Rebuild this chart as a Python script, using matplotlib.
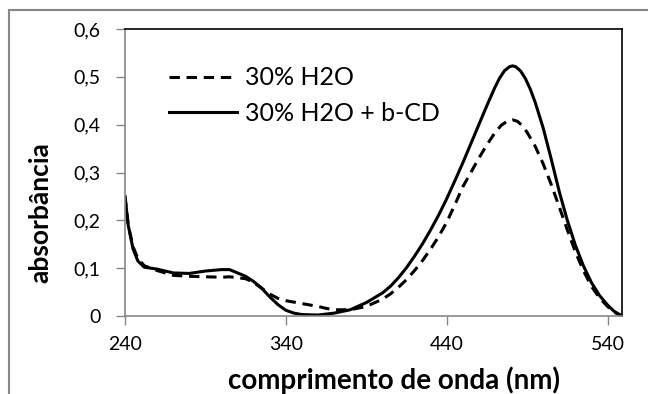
import matplotlib
matplotlib.use("Agg")
import matplotlib.pyplot as plt
from matplotlib.patches import Rectangle
from matplotlib.ticker import FuncFormatter

# absorption spectra (wavelength in nm, absorbance)
wl_cd = [240, 242, 245, 248, 252, 260, 270, 280, 290, 300, 305, 310, 315, 320,
         325, 330, 335, 340, 345, 350, 360, 370, 380, 390, 400, 405, 410, 415,
         420, 425, 430, 435, 440, 445, 450, 455, 460, 465, 470, 473, 476, 479,
         481, 483, 486, 489, 492, 495, 500, 505, 510, 515, 520, 525, 530, 535,
         540, 544, 548]
abs_cd = [0.25, 0.19, 0.14, 0.115, 0.102, 0.098, 0.09, 0.089, 0.094, 0.097, 0.097,
          0.09, 0.083, 0.072, 0.058, 0.04, 0.024, 0.012, 0.006, 0.003, 0.002,
          0.006, 0.013, 0.028, 0.048, 0.062, 0.08, 0.101, 0.125, 0.151, 0.18,
          0.211, 0.245, 0.282, 0.32, 0.36, 0.40, 0.44, 0.478, 0.498, 0.513,
          0.521, 0.523, 0.521, 0.512, 0.496, 0.474, 0.447, 0.393, 0.328, 0.26,
          0.2, 0.148, 0.105, 0.07, 0.043, 0.023, 0.01, 0.002]

wl_h2o = [240, 242, 245, 248, 252, 260, 270, 280, 290, 300, 305, 310, 315, 320,
          325, 330, 335, 340, 350, 360, 365, 370, 380, 390, 400, 405, 410, 415,
          420, 425, 430, 435, 440, 445, 450, 455, 460, 465, 470, 474, 478, 481,
          484, 487, 490, 495, 500, 505, 510, 515, 520, 525, 530, 535, 540, 544,
          548]
abs_h2o = [0.25, 0.19, 0.145, 0.12, 0.105, 0.095, 0.085, 0.083, 0.082, 0.081, 0.082,
           0.08, 0.078, 0.07, 0.058, 0.046, 0.037, 0.032, 0.026, 0.02, 0.016,
           0.013, 0.013, 0.02, 0.035, 0.046, 0.06, 0.076, 0.095, 0.116, 0.14,
           0.166, 0.196, 0.232, 0.27, 0.30, 0.33, 0.358, 0.383, 0.399, 0.408,
           0.41, 0.407, 0.398, 0.384, 0.355, 0.318, 0.275, 0.228, 0.18, 0.134,
           0.095, 0.062, 0.038, 0.02, 0.008, 0.002]

labels = ["30% H2O", "30% H2O + b-CD"]
x_ticks = [240, 340, 440, 540]
y_ticks = [0, 0.1, 0.2, 0.3, 0.4, 0.5, 0.6]

plt.rcParams['font.family'] = ['Lato', 'DejaVu Sans']
grey = '#868686'

fig = plt.figure(figsize=(6.48, 3.94), dpi=100)
ax = fig.add_axes([125/648, 1 - 316/394, 497/648, 287/394])

ax.plot(wl_h2o, abs_h2o, color='black', lw=2.2, dashes=(3.4, 2.2), label=labels[0])
ax.plot(wl_cd, abs_cd, color='black', lw=2.2, label=labels[1])

ax.set_xlim(240, 549)
ax.set_ylim(0, 0.6)
ax.set_xticks(x_ticks)
ax.set_yticks(y_ticks)
ax.yaxis.set_major_formatter(FuncFormatter(lambda v, p: "0" if v == 0 else f"{v:.1f}".replace(".", ",")))
ax.tick_params(axis='both', direction='out', length=6.5, width=1, color=grey, labelsize=14)
ax.tick_params(axis='y', pad=11)
ax.tick_params(axis='x', pad=8)

for s in ['left', 'bottom']:
    ax.spines[s].set_color(grey)
    ax.spines[s].set_linewidth(1.2)
for s in ['top', 'right']:
    ax.spines[s].set_color('black')
    ax.spines[s].set_linewidth(1.2)

ax.set_xlabel("comprimento de onda (nm)", fontsize=20, fontweight='bold')
ax.xaxis.set_label_coords(0.541, -0.175)
ax.set_ylabel("absorbância", fontsize=19, fontweight='bold')
ax.yaxis.set_label_coords(-0.147, 0.36)

ax.legend(loc='upper left', bbox_to_anchor=(0.088, 0.87), frameon=False, fontsize=18,
          handlelength=2.72, handletextpad=0.32, labelspacing=0.5, borderaxespad=0,
          borderpad=0)

# outer chart border
fig.add_artist(Rectangle((9/648, -0.1), 1.0, (394 - 10)/394 + 0.1, transform=fig.transFigure,
                         fill=False, edgecolor=grey, lw=1.5))

fig.savefig("out.png", dpi=100)
